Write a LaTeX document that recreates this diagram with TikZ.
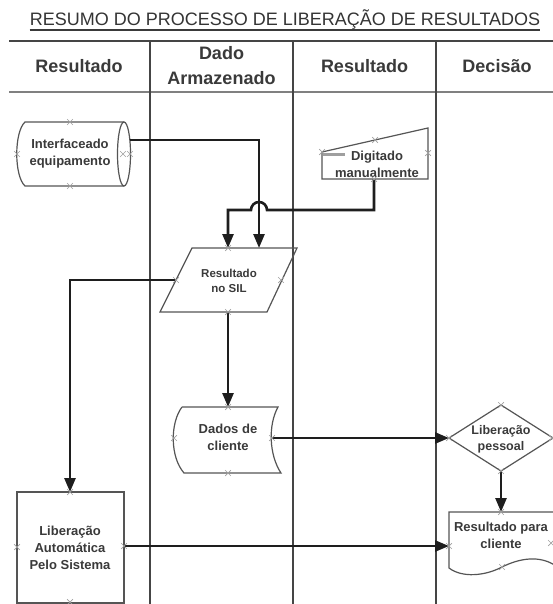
\documentclass[tikz,border=0pt]{standalone}
\usepackage{fontspec}
\setmainfont{Liberation Sans}
\usetikzlibrary{arrows.meta}
\definecolor{txt}{HTML}{3A3A3A}
\definecolor{edgec}{HTML}{555555}
\definecolor{connc}{HTML}{1E1E1E}
\definecolor{markc}{HTML}{A0A0A0}
\definecolor{lanec}{HTML}{454545}
\begin{document}
\begin{tikzpicture}[x=1pt,y=-1pt,
  lane/.style={draw=lanec, line width=1.3pt},
  outline/.style={draw=edgec, line width=1.2pt},
  conn/.style={draw=connc, line width=2.6pt, -{Triangle[length=14pt,width=11pt]}},
  lbl/.style={text=txt, font=\bfseries\fontsize{13}{17}\selectfont, align=center, inner sep=0pt},
  smalllbl/.style={text=txt, font=\bfseries\fontsize{11.5}{15}\selectfont, align=center, inner sep=0pt},
  dialbl/.style={text=txt, font=\bfseries\fontsize{12.5}{16}\selectfont, align=center, inner sep=0pt},
  hdr/.style={text=txt, font=\bfseries\fontsize{18}{25}\selectfont, align=center, inner sep=0pt},
  cp/.pic={\draw[markc, line width=0.7pt] (-2.8,-2.8)--(2.8,2.8) (-2.8,2.8)--(2.8,-2.8);}
]
\useasboundingbox (0,0) rectangle (553,604);
\fill[white] (0,0) rectangle (553,604);

% title
\node[text=txt!90!black, font=\fontsize{18}{22}\selectfont, inner sep=0pt, anchor=base] (title) at (285,26) {RESUMO DO PROCESSO DE LIBERAÇÃO DE RESULTADOS};
\draw[txt, line width=1.2pt] ([yshift=-4pt]title.base west) -- ([yshift=-4pt]title.base east);

% header and lanes
\draw[draw=lanec, line width=2.6pt] (9,41) -- (553,41);
\draw[draw=gray, line width=2pt] (9,92) -- (553,92);
\draw[lane] (150,41) -- (150,604);
\draw[lane] (293,41) -- (293,604);
\draw[lane] (436,41) -- (436,604);
\node[hdr] (h1) at (79,66) {Resultado};
\node[hdr] (h2) at (221.5,66) {Dado\\Armazenado};
\node[hdr] (h3) at (364.5,66) {Resultado};
\node[hdr] (h4) at (497,66) {Decisão};

% Interfaceado equipamento (drum)
\draw[outline] (124,122) -- (25,122) .. controls (14,132) and (14,176) .. (25,186) -- (124,186);
\draw[outline] (124,154) ellipse [x radius=6.5, y radius=32];
\node[lbl] (cyl) at (70,154) {Interfaceado\\equipamento};
\coordinate (cyl-out) at (129.5,140);

% Digitado manualmente (manual input)
\draw[outline] (322,152) -- (428,128) -- (428,179) -- (322,179) -- cycle;
\draw[gray!75, line width=2.5pt] (323,154.5) -- (345,154.5);
\node[lbl] (dig) at (377,164) {Digitado\\manualmente};
\coordinate (dig-out) at (374,179);

% Resultado no SIL (parallelogram)
\draw[outline] (192,248) -- (297,248) -- (267,312) -- (160,312) -- cycle;
\node[smalllbl] (sil) at (229,281) {Resultado\\no SIL};
\coordinate (sil-in1) at (228,248);
\coordinate (sil-in2) at (259,248);
\coordinate (sil-w) at (176,280);
\coordinate (sil-s) at (228,312);

% Dados de cliente (stored data)
\draw[outline] (182,407) -- (278,407) .. controls (268,425) and (269,455) .. (281,473) -- (184,473) .. controls (170,457) and (170,423) .. (182,407);
\node[lbl] (dad) at (228,437) {Dados de\\cliente};
\coordinate (dad-n) at (228,407);
\coordinate (dad-e) at (272,438);

% Liberacao pessoal (decision)
\draw[outline] (449,438) -- (501,405) -- (553,438) -- (501,471) -- cycle;
\node[dialbl] (dia) at (501,439) {Liberação\\pessoal};
\coordinate (dia-w) at (449,438);
\coordinate (dia-s) at (501,471);

% Resultado para cliente (document)
\draw[outline] (556,512) -- (449,512) -- (449,568) .. controls (462,578) and (485,576) .. (502,567) .. controls (520,558) and (540,555) .. (556,566);
\node[lbl] (res) at (501,535) {Resultado para\\cliente};
\coordinate (res-n) at (501,512);
\coordinate (res-w) at (449,546);

% Liberacao Automatica (process)
\draw[outline] (17,492) rectangle (124,603);
\node[lbl] (auto) at (70,548) {Liberação\\Automática\\Pelo Sistema};
\coordinate (auto-n) at (70,492);
\coordinate (auto-e) at (124,546);

% hop coordinates
\coordinate (hopR) at (267,210);
\coordinate (hopL) at (251,210);

% connectors
\draw[conn] (cyl-out) -| (sil-in2);
\draw[conn] (dig-out) |- (hopR) arc[start angle=0, end angle=-180, radius=8] -| (sil-in1);
\draw[conn] (sil-w) -| (auto-n);
\draw[conn] (sil-s) -- (dad-n);
\draw[conn] (dad-e) -- (dia-w);
\draw[conn] (dia-s) -- (res-n);
\draw[conn] (auto-e) -- (res-w);

% connection point marks
\foreach \p in {(70,122),(70,186),(17,154),(123,154),(130,154),
  (375,140),(322,152),(428,153),(374,179),
  (228,248),(176,280),(281,280),(228,312),
  (228,407),(174,438),(272,438),(228,473),
  (501,405),(449,438),(552,438),(501,471),
  (501,512),(449,546),(551,543),(502,567),
  (70,492),(17,547),(124,546),(70,602)}
  \pic at \p {cp};
\end{tikzpicture}
\end{document}
